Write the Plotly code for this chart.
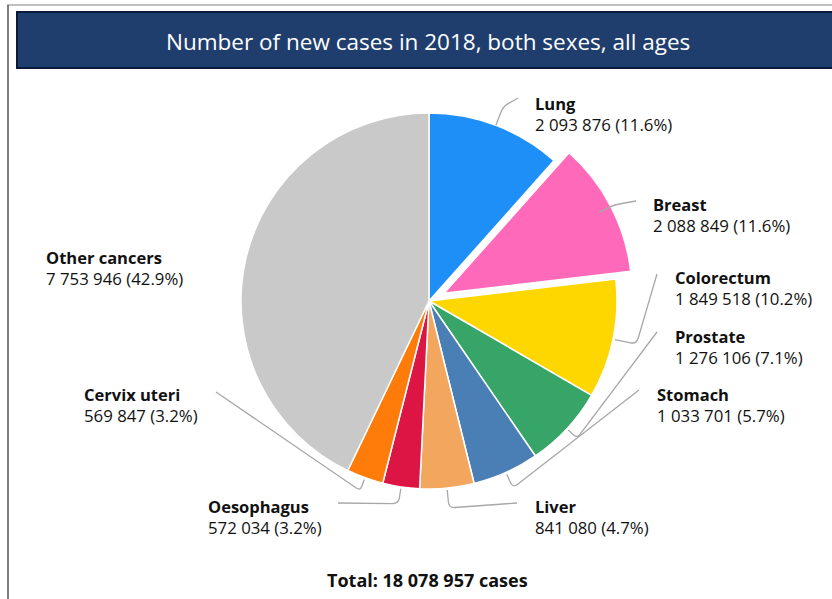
import plotly.graph_objects as go
import math

# ---------------- data ----------------
categories = ["Lung", "Breast", "Colorectum", "Prostate", "Stomach",
              "Liver", "Oesophagus", "Cervix uteri", "Other cancers"]
new_cases = [2093876, 2088849, 1849518, 1276106, 1033701,
             841080, 572034, 569847, 7753946]
colors = ["#1E8FF7", "#FF69B9", "#FFD700", "#37A468", "#4A7FB5",
          "#F3A65E", "#DC1545", "#FF7C0A", "#C9C9C9"]
pulls = [0, 0.09, 0, 0, 0, 0, 0, 0, 0]
title_text = "Number of new cases in 2018, both sexes, all ages"

# ---------------- layout constants (pixels) ----------------
W, H = 832, 599
CX, CY, R = 429, 301, 188
FONT = "Open Sans"

# label anchor: (left x, vertical middle of the two-line block)
label_pos = {
    "Lung": (533, 114), "Breast": (651, 215), "Colorectum": (673, 288),
    "Prostate": (673, 347), "Stomach": (655, 405), "Liver": (533, 517),
    "Oesophagus": (206, 517), "Cervix uteri": (82, 405),
    "Other cancers": (44, 268),
}
# leader lines: (radial start factor, radial elbow length px, end point)
leader = {
    "Lung": (1.0, 20, (518, 98)),
    "Breast": (0.93, 16, (636, 201)),
    "Colorectum": (1.01, 22, (657, 274)),
    "Prostate": (1.01, 12, (657, 332)),
    "Stomach": (1.01, 15, (639, 390)),
    "Liver": (1.01, 18, (517, 503)),
    "Oesophagus": (1.01, 15, (338, 503)),
    "Cervix uteri": (1.01, 12, (216, 392)),
}


def px(x):
    return x / W


def py(y):
    return 1 - y / H


total = sum(new_cases)
maxpull = max(pulls)
half = R * (1 + maxpull)

fig = go.Figure(go.Pie(
    labels=categories, values=new_cases, sort=False, direction="clockwise",
    rotation=0, pull=pulls, textinfo="none", hoverinfo="label+value+percent",
    marker=dict(colors=colors, line=dict(color="white", width=1.5)),
    domain=dict(x=[px(CX - half), px(CX + half)], y=[py(CY + half), py(CY - half)]),
    showlegend=False,
))

shapes = []
annotations = []

# outer frame
shapes.append(dict(type="line", xref="paper", yref="paper", x0=px(7), x1=px(W + 5),
                   y0=py(5), y1=py(5), line=dict(color="#ababab", width=1.5)))
shapes.append(dict(type="line", xref="paper", yref="paper", x0=px(8), x1=px(8),
                   y0=py(5), y1=py(H + 5), line=dict(color="#555555", width=1.5)))
# title bar
shapes.append(dict(type="rect", xref="paper", yref="paper", x0=px(17), x1=px(W + 10),
                   y0=py(68), y1=py(12), fillcolor="#1F3E6E",
                   line=dict(color="#0B1A38", width=2), layer="below"))
annotations.append(dict(text=title_text, xref="paper", yref="paper", x=px(428), y=py(42),
                        showarrow=False, xanchor="center", yanchor="middle",
                        font=dict(family=FONT, size=22.5, color="white")))

# slice labels and leader lines
cum = 0
for name, v, p in zip(categories, new_cases, pulls):
    mid = (cum + v / 2) / total
    cum += v
    th = mid * 2 * math.pi
    ux, uy = math.sin(th), -math.cos(th)
    ccx, ccy = CX + ux * p * R, CY + uy * p * R
    pct = v / total * 100
    lx, ly = label_pos[name]
    txt = "<b>%s</b><br><span style='font-size:16.8px'>%s (%.1f%%)</span>" % (
        name, f"{v:,}".replace(",", " "), pct)
    annotations.append(dict(text=txt, xref="paper", yref="paper",
                            x=px(lx), y=py(ly), showarrow=False, xanchor="left",
                            yanchor="middle", align="left",
                            font=dict(family=FONT, size=16.5, color="#111111")))
    if name in leader:
        f0, ext, (ex, ey) = leader[name]
        x0, y0 = ccx + ux * R * f0, ccy + uy * R * f0
        x1, y1 = x0 + ux * ext, y0 + uy * ext
        dx, dy = ex - x1, ey - y1
        d = math.hypot(dx, dy)
        rc = min(6, ext * 0.4)
        xa, ya = x1 - ux * rc, y1 - uy * rc
        xb, yb = x1 + dx / d * rc, y1 + dy / d * rc
        path = "M %f,%f L %f,%f Q %f,%f %f,%f L %f,%f" % (
            px(x0), py(y0), px(xa), py(ya), px(x1), py(y1), px(xb), py(yb), px(ex), py(ey))
        shapes.append(dict(type="path", xref="paper", yref="paper", path=path,
                           line=dict(color="#a8a8a8", width=1.3)))

annotations.append(dict(text="<b>Total: %s cases</b>" % f"{total:,}".replace(",", " "),
                        xref="paper", yref="paper", x=px(427), y=py(580), showarrow=False,
                        xanchor="center", yanchor="middle",
                        font=dict(family=FONT, size=18, color="#111111")))

fig.update_layout(width=W, height=H, margin=dict(l=0, r=0, t=0, b=0),
                  paper_bgcolor="white", plot_bgcolor="white",
                  shapes=shapes, annotations=annotations)
fig.write_html("out.html")
